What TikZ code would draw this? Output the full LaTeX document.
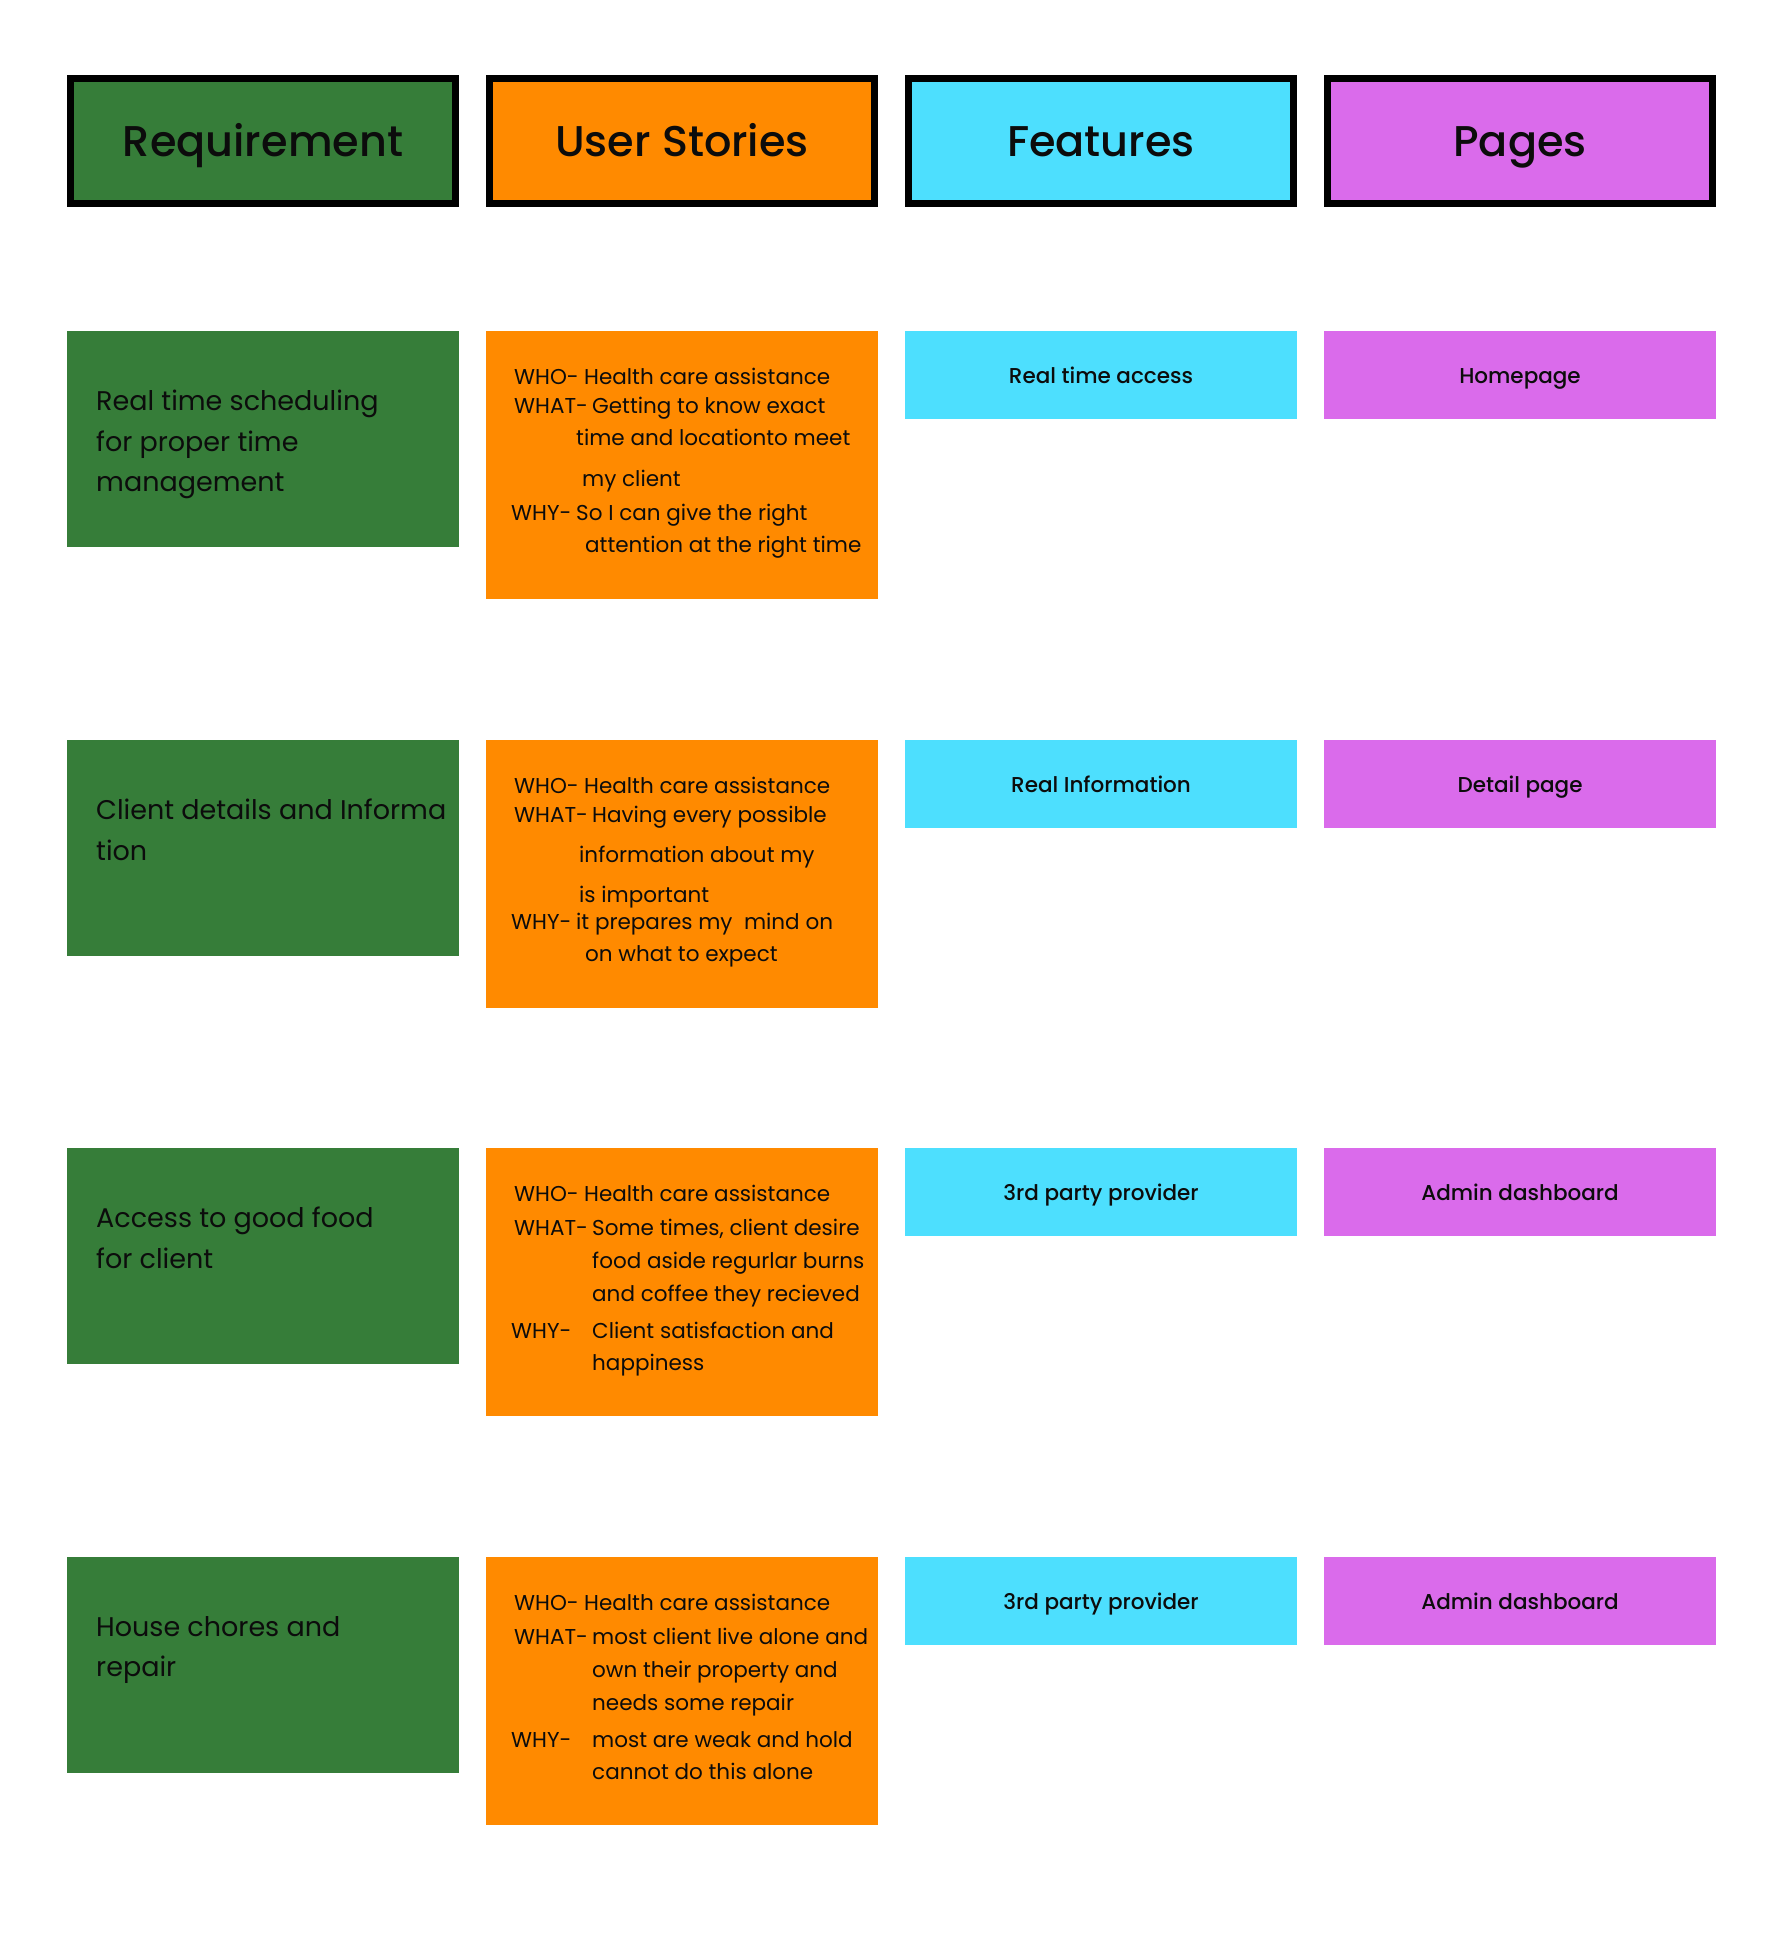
\documentclass[tikz,border=0pt]{standalone}
\usepackage{fontspec}
\setmainfont{Poppins}
\newfontfamily\popmed{Poppins Medium}
\usetikzlibrary{positioning}

\definecolor{reqgreen}{RGB}{54,125,57}
\definecolor{storyorange}{RGB}{255,138,0}
\definecolor{featcyan}{RGB}{77,223,254}
\definecolor{pagepink}{RGB}{218,107,235}
\definecolor{ink}{RGB}{12,12,12}

\newcommand{\storylead}[2]{\makebox[#1][l]{#2}}

\begin{document}
\begin{tikzpicture}[x=1pt,y=-1pt,
    head/.style={draw=black,line width=7pt,minimum width=385pt,minimum height=125pt,inner sep=0pt,text=ink,
        text height=42pt,text depth=10pt,font=\popmed\fontsize{43}{50}\selectfont},
    card/.style={anchor=north west,minimum width=392pt,inner sep=0pt,outer sep=0pt},
    reqbox/.style={card,fill=reqgreen,minimum height=216pt},
    storybox/.style={card,fill=storyorange,minimum height=268pt},
    featbox/.style={card,fill=featcyan,minimum height=88pt,text=ink,text height=20pt,text depth=4pt,
        font=\popmed\fontsize{21.5}{26}\selectfont},
    pagebox/.style={card,fill=pagepink,minimum height=88pt,text=ink,text height=20pt,text depth=4pt,
        font=\popmed\fontsize{21.5}{26}\selectfont},
    reqtext/.style={anchor=north west,inner sep=0pt,align=left,text=ink,font=\fontsize{27}{40.5}\selectfont},
    storytext/.style={anchor=north west,inner sep=0pt,align=left,text=ink,font=\fontsize{21.5}{33}\selectfont}]
    \useasboundingbox (0,0) rectangle (1782,1937);

    % headers
    \node[head,fill=reqgreen] (hreq) at (263,141) {Requirement};
    \node[head,fill=storyorange,right=27pt of hreq] (hstory) {User Stories};
    \node[head,fill=featcyan,right=27pt of hstory] (hfeat) {Features};
    \node[head,fill=pagepink,right=27pt of hfeat] (hpage) {Pages};

    % row 1
    \node[reqbox] (req1) at (67,331) {};
    \node[storybox,right=27pt of req1.north east,anchor=north west] (story1) {};
    \node[featbox,right=27pt of story1.north east,anchor=north west] (feat1) {Real time access};
    \node[pagebox,right=27pt of feat1.north east,anchor=north west] (page1) {Homepage};
    \node[reqtext] (req1t) at ([xshift=29pt,yshift=-59pt]req1.north west)
        {Real time scheduling\\for proper time\\management};
    \node[storytext] (story1t) at ([xshift=25pt,yshift=-37pt]story1.north west)
        {\hspace*{3pt}\storylead{70pt}{WHO-}Health care assistance\\[-4pt]
         \hspace*{3pt}\storylead{78pt}{WHAT-}Getting to know exact\\[-1pt]
         \hspace*{65pt}time and locationto meet\\[8pt]
         \hspace*{71pt}my client\\[1pt]
         \storylead{65pt}{WHY-}So I can give the right\\[-1pt]
         \hspace*{74pt}attention at the right time};

    % row 2
    \node[reqbox] (req2) at (67,740) {};
    \node[storybox,right=27pt of req2.north east,anchor=north west] (story2) {};
    \node[featbox,right=27pt of story2.north east,anchor=north west] (feat2) {Real Information};
    \node[pagebox,right=27pt of feat2.north east,anchor=north west] (page2) {Detail page};
    \node[reqtext] (req2t) at ([xshift=29pt,yshift=-59pt]req2.north west)
        {Client details and Informa\\tion};
    \node[storytext] (story2t) at ([xshift=25pt,yshift=-37pt]story2.north west)
        {\hspace*{3pt}\storylead{70pt}{WHO-}Health care assistance\\[-4pt]
         \hspace*{3pt}\storylead{78pt}{WHAT-}Having every possible\\[7pt]
         \hspace*{68pt}information about my\\[7pt]
         \hspace*{68pt}is important\\[-6pt]
         \storylead{65pt}{WHY-}it prepares my\ \ mind on\\[-1pt]
         \hspace*{74pt}on what to expect};

    % row 3
    \node[reqbox] (req3) at (67,1148) {};
    \node[storybox,right=27pt of req3.north east,anchor=north west] (story3) {};
    \node[featbox,right=27pt of story3.north east,anchor=north west] (feat3) {3rd party provider};
    \node[pagebox,right=27pt of feat3.north east,anchor=north west] (page3) {Admin dashboard};
    \node[reqtext] (req3t) at ([xshift=29pt,yshift=-59pt]req3.north west)
        {Access to good food\\for client};
    \node[storytext] (story3t) at ([xshift=25pt,yshift=-37pt]story3.north west)
        {\hspace*{3pt}\storylead{70pt}{WHO-}Health care assistance\\[0.5pt]
         \hspace*{3pt}\storylead{78pt}{WHAT-}Some times, client desire\\
         \hspace*{81pt}food aside regurlar burns\\
         \hspace*{81pt}and coffee they recieved\\[4pt]
         \storylead{81pt}{WHY-}Client satisfaction and\\[-0.5pt]
         \hspace*{81pt}happiness};

    % row 4
    \node[reqbox] (req4) at (67,1557) {};
    \node[storybox,right=27pt of req4.north east,anchor=north west] (story4) {};
    \node[featbox,right=27pt of story4.north east,anchor=north west] (feat4) {3rd party provider};
    \node[pagebox,right=27pt of feat4.north east,anchor=north west] (page4) {Admin dashboard};
    \node[reqtext] (req4t) at ([xshift=29pt,yshift=-59pt]req4.north west)
        {House chores and\\repair};
    \node[storytext] (story4t) at ([xshift=25pt,yshift=-37pt]story4.north west)
        {\hspace*{3pt}\storylead{70pt}{WHO-}Health care assistance\\[0.5pt]
         \hspace*{3pt}\storylead{78pt}{WHAT-}most client live alone and\\
         \hspace*{81pt}own their property and\\
         \hspace*{81pt}needs some repair\\[4pt]
         \storylead{81pt}{WHY-}most are weak and hold\\[-0.5pt]
         \hspace*{81pt}cannot do this alone};
\end{tikzpicture}
\end{document}
